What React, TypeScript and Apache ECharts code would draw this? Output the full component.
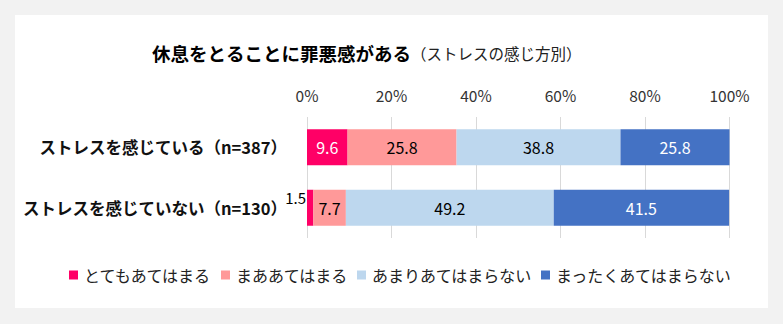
import React, { useEffect, useRef } from "react";
import * as echarts from "echarts";

const categories = ["ストレスを感じている（n=387）", "ストレスを感じていない（n=130）"];
const seriesNames = ["とてもあてはまる", "まああてはまる", "あまりあてはまらない", "まったくあてはまらない"];
const veryMuch = [9.6, 1.5];
const somewhat = [25.8, 7.7];
const notMuch = [38.8, 49.2];
const notAtAll = [25.8, 41.5];
const xTicks = [0, 20, 40, 60, 80, 100];

const colors = ["#FF0066", "#FF9999", "#BDD7EE", "#4472C4"];
const labelColors = ["#ffffff", "#000000", "#000000", "#ffffff"];
const FONT = "'Noto Sans CJK JP', 'Noto Sans', sans-serif";

export default function App() {
  const ref = useRef<HTMLDivElement>(null);
  useEffect(() => {
    if (!ref.current) return;
    const chart = echarts.init(ref.current, undefined, { renderer: "svg" });
    const all = [veryMuch, somewhat, notMuch, notAtAll];
    const series = all.map((vals, i) => ({
      name: seriesNames[i],
      type: "bar",
      stack: "total",
      barWidth: 36,
      itemStyle: { color: colors[i] },
      label: {
        show: true,
        position: "inside",
        color: labelColors[i],
        fontSize: 16,
        fontFamily: FONT,
        formatter: (p: any) => p.value.toFixed(1),
      },
      data: vals.map((v) =>
        v < 3
          ? {
              value: v,
              label: {
                position: "left",
                distance: 1,
                offset: [0, -10],
                color: "#000000",
                fontSize: 15,
              },
            }
          : v
      ),
    }));
    chart.setOption({
      animation: false,
      backgroundColor: "#f2f2f2",
      textStyle: { fontFamily: FONT },
      graphic: [
        {
          type: "rect",
          z: -10,
          shape: { x: 15, y: 15, width: 753, height: 293 },
          style: { fill: "#ffffff" },
        },
        {
          type: "text",
          left: 152,
          top: 44,
          style: {
            text: "{a|休息をとることに罪悪感がある}{b|（ストレスの感じ方別）}",
            rich: {
              a: { fontSize: 18.5, fontWeight: "bold", fill: "#000", fontFamily: FONT },
              b: { fontSize: 15.5, fill: "#222", fontFamily: FONT },
            } as any,
          },
        },
      ],
      legend: {
        left: 64,
        top: 262,
        itemWidth: 9,
        itemHeight: 9,
        itemGap: 9,
        icon: "rect",
        textStyle: { fontSize: 16, color: "#222", fontFamily: FONT, padding: [0, 0, 0, 1] },
        data: seriesNames,
      },
      grid: { left: 307, right: 53.5, top: 117, height: 121, containLabel: false },
      xAxis: {
        type: "value",
        position: "top",
        min: xTicks[0],
        max: xTicks[xTicks.length - 1],
        interval: xTicks[1] - xTicks[0],
        axisLine: { show: false },
        axisTick: { show: false },
        axisLabel: { formatter: "{value}%", fontSize: 15.5, color: "#333", margin: 14, fontFamily: FONT },
        splitLine: { lineStyle: { color: "#d9d9d9", width: 1 } },
      },
      yAxis: {
        type: "category",
        inverse: true,
        data: categories,
        axisLine: { show: false },
        axisTick: { show: false },
        axisLabel: { fontSize: 16.5, fontWeight: "bold", color: "#111", margin: 20, fontFamily: FONT },
      },
      series,
    });
    return () => chart.dispose();
  }, []);
  return (
    <div
      ref={ref}
      style={{ position: "fixed", left: 0, top: 0, width: 783, height: 324 }}
    />
  );
}
